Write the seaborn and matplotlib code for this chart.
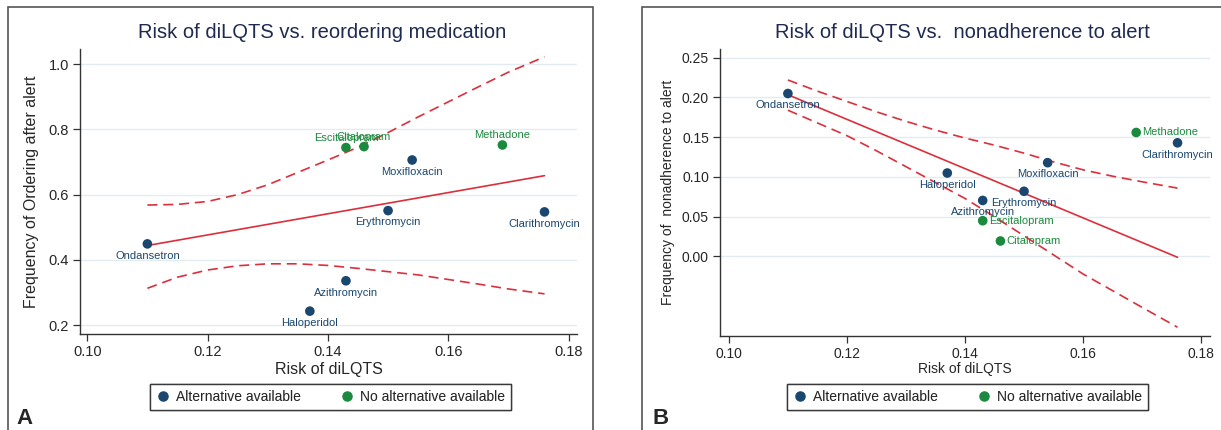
import numpy as np
import pandas as pd
import matplotlib
matplotlib.use("Agg")
import matplotlib.pyplot as plt
import seaborn as sns
from matplotlib.lines import Line2D
from matplotlib.patches import Rectangle

# Drug data
drugs = ["Ondansetron", "Haloperidol", "Azithromycin", "Erythromycin", "Moxifloxacin",
         "Clarithromycin", "Escitalopram", "Citalopram", "Methadone"]
risk = [0.110, 0.137, 0.143, 0.150, 0.154, 0.176, 0.143, 0.146, 0.169]
reorder = [0.449, 0.243, 0.336, 0.551, 0.706, 0.547, 0.744, 0.747, 0.752]
nonadherence = [0.205, 0.105, 0.0705, 0.082, 0.118, 0.143, 0.045, 0.0195, 0.156]
group = ["Alternative available"] * 6 + ["No alternative available"] * 3
label_pos_a = ["below"] * 6 + ["above"] * 3
label_pos_b = ["below"] * 6 + ["right"] * 3

# Fitted line and confidence band
fit_x = [0.110, 0.176]
fit_a = [0.444, 0.658]
fit_b = [0.2035, -0.001]
ci_x = [0.110, 0.115, 0.120, 0.125, 0.130, 0.135, 0.140, 0.145, 0.150, 0.155, 0.160, 0.165, 0.170, 0.176]
ci_upper_a = [0.568, 0.570, 0.579, 0.600, 0.630, 0.668, 0.706, 0.745, 0.790, 0.838, 0.884, 0.930, 0.975, 1.022]
ci_lower_a = [0.313, 0.347, 0.369, 0.382, 0.388, 0.388, 0.383, 0.374, 0.364, 0.354, 0.340, 0.326, 0.311, 0.296]
ci_upper_b = [0.222, 0.208, 0.195, 0.182, 0.170, 0.159, 0.149, 0.140, 0.130, 0.119, 0.109, 0.101, 0.094, 0.086]
ci_lower_b = [0.184, 0.168, 0.152, 0.133, 0.113, 0.093, 0.073, 0.050, 0.026, 0.002, -0.022, -0.043, -0.064, -0.089]

df = pd.DataFrame({"drug": drugs, "risk": risk, "reorder": reorder,
                   "nonadherence": nonadherence, "group": group})

blue = "#1a476f"
green = "#1b8a3e"
red = "#dc2f3c"
navy = "#1e2a4f"
palette = {"Alternative available": blue, "No alternative available": green}

sns.set_theme(style="white")
plt.rcParams["font.family"] = ["Liberation Sans", "DejaVu Sans"]

W, H = 1221, 430
fig = plt.figure(figsize=(W / 100, H / 100), dpi=100)

ax_a = fig.add_axes([80 / W, 1 - 334 / H, 497 / W, 285 / H])
ax_b = fig.add_axes([720 / W, 1 - 336 / H, 490 / W, 287 / H])

dash = (0, (6, 3.5))


def draw_panel(ax, ycol, fit, upper, lower, label_pos, fs):
    sns.lineplot(x=fit_x, y=fit, ax=ax, color=red, lw=1.2, zorder=2)
    sns.lineplot(x=ci_x, y=upper, ax=ax, color=red, lw=1.2, linestyle=dash, zorder=2)
    sns.lineplot(x=ci_x, y=lower, ax=ax, color=red, lw=1.2, linestyle=dash, zorder=2)
    sns.scatterplot(data=df, x="risk", y=ycol, hue="group", palette=palette, s=48,
                    edgecolor="none", legend=False, ax=ax, zorder=3)
    for name, xv, yv, g, pos in zip(drugs, risk, df[ycol], group, label_pos):
        if pos == "below":
            off, ha = (0, -8.5), "center"
        elif pos == "above":
            off, ha = (0, 7), "center"
        else:
            off, ha = (4.5, 0), "left"
        ax.annotate(name, (xv, yv), xytext=off, textcoords="offset points",
                    ha=ha, va="center", fontsize=8, color=palette[g])
    ax.yaxis.grid(True, color="#e2ebf0", lw=1)
    ax.set_axisbelow(True)
    for s in ["top", "right"]:
        ax.spines[s].set_visible(False)
    for s in ["left", "bottom"]:
        ax.spines[s].set_color("#333333")
        ax.spines[s].set_linewidth(1)
    ax.tick_params(axis="both", direction="out", length=5, width=0.9, color="#333333",
                   labelsize=fs, left=True, bottom=True, pad=3)
    ax.set_xlim(0.0988, 0.1814)
    ax.set_xticks([0.10, 0.12, 0.14, 0.16, 0.18])
    ax.set_xticklabels(["0.10", "0.12", "0.14", "0.16", "0.18"])


draw_panel(ax_a, "reorder", fit_a, ci_upper_a, ci_lower_a, label_pos_a, 10.5)
ax_a.set_ylim(0.173, 1.046)
ax_a.set_yticks([0.2, 0.4, 0.6, 0.8, 1.0])
ax_a.set_yticklabels(["0.2", "0.4", "0.6", "0.8", "1.0"])
ax_a.set_xlabel("Risk of diLQTS", fontsize=11.5, labelpad=2)
ax_a.set_ylabel("Frequency of Ordering after alert", fontsize=11.5, labelpad=7)

draw_panel(ax_b, "nonadherence", fit_b, ci_upper_b, ci_lower_b, label_pos_b, 10)
ax_b.set_xlim(0.0985, 0.1815)
ax_b.set_ylim(-0.10, 0.261)
ax_b.set_yticks([0.0, 0.05, 0.10, 0.15, 0.20, 0.25])
ax_b.set_yticklabels(["0.00", "0.05", "0.10", "0.15", "0.20", "0.25"])
ax_b.set_xlabel("Risk of diLQTS", fontsize=10, labelpad=1)
ax_b.set_ylabel("Frequency of  nonadherence to alert", fontsize=10, labelpad=5)

# Titles
fig.text(322 / W, 1 - 33 / H, "Risk of diLQTS vs. reordering medication",
         ha="center", va="center", fontsize=14.5, color=navy)
fig.text(962 / W, 1 - 33 / H, "Risk of diLQTS vs.  nonadherence to alert",
         ha="center", va="center", fontsize=14.5, color=navy)

# Legends
handles = [Line2D([], [], marker="o", ls="", color=palette[k], markersize=6.5, label=k)
           for k in palette]
for cx in [330.5, 967.5]:
    leg = fig.legend(handles=handles, loc="center", bbox_to_anchor=(cx / W, 1 - 397 / H),
                     ncol=2, frameon=True, fancybox=False, edgecolor="#222222",
                     fontsize=10, handletextpad=0.45, columnspacing=2.8, borderpad=0.4,
                     handlelength=1.0)
    leg.get_frame().set_linewidth(1)
    fig.add_artist(leg)

# Panel borders and letters
fig.add_artist(Rectangle((8 / W, -0.05), (593 - 8) / W, 1.05 - 7 / H, transform=fig.transFigure,
                         fill=False, ec="#555555", lw=1.2))
fig.add_artist(Rectangle((642 / W, -0.05), 0.6, 1.05 - 7 / H, transform=fig.transFigure,
                         fill=False, ec="#555555", lw=1.2))
fig.text(16 / W, 1 - 418 / H, "A", fontsize=16, fontweight="bold", va="center", ha="left")
fig.text(652 / W, 1 - 418 / H, "B", fontsize=16, fontweight="bold", va="center", ha="left")

fig.savefig("out.png", dpi=100)
